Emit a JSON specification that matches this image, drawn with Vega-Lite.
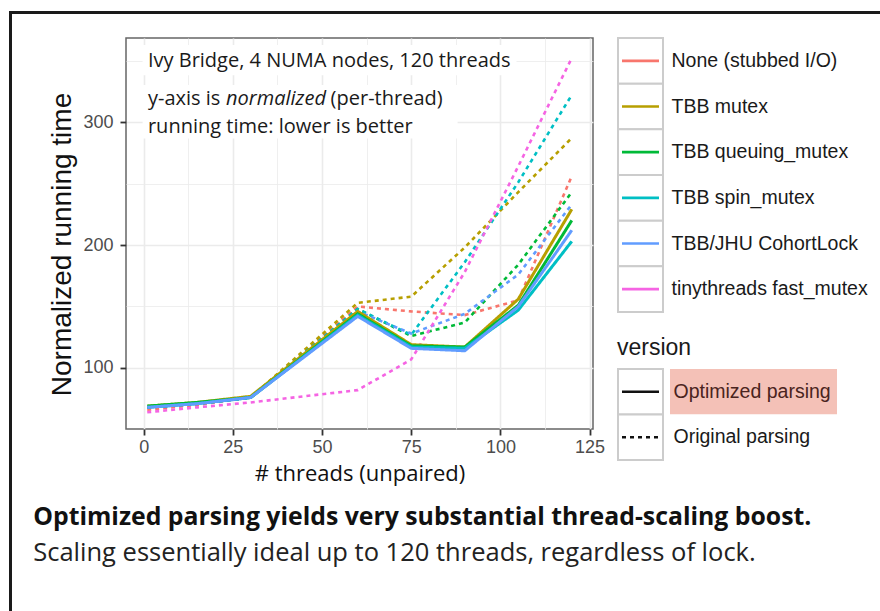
{
  "$schema": "https://vega.github.io/schema/vega-lite/v6.json",
  "padding": {"left": 9, "top": 11, "right": 0, "bottom": 0},
  "background": "white",
  "config": {"view": {"stroke": null}, "font": "Liberation Sans"},
  "spacing": 0,
  "vconcat": [
    {
      "width": 871, "height": 3,
      "view": {"fill": "#1a1a1a", "stroke": null},
      "data": {"values": []},
      "mark": "rule",
      "encoding": {}
    },
    {
      "spacing": 21,
      "hconcat": [
        {
          "width": 3, "height": 597,
          "view": {"fill": "#1a1a1a", "stroke": null},
          "data": {"values": []},
          "mark": "rule",
          "encoding": {}
        },
        {
          "spacing": 3,
          "title": {
            "text": "Optimized parsing yields very substantial thread-scaling boost.",
            "subtitle": "Scaling essentially ideal up to 120 threads, regardless of lock.",
            "orient": "bottom", "anchor": "start", "dx": -15, "offset": 20,
            "font": "Open Sans", "fontSize": 24.8, "fontWeight": "bold", "color": "#111111",
            "subtitleFont": "Open Sans", "subtitleFontSize": 25.5, "subtitleColor": "#222222", "subtitlePadding": 11
          },
          "vconcat": [
            {
              "width": 1, "height": 20,
              "view": {"stroke": null},
              "data": {"values": []},
              "mark": "rule",
              "encoding": {}
            },
            {
              "spacing": 10,
              "hconcat": [
                {
                  "width": 467, "height": 391,
                  "view": {"stroke": "#666666", "strokeWidth": 1.5},
                  "layer": [
                    {
                      "data": {"values": [
                        {"threads": 1, "time": 66, "lock": "None (stubbed I/O)", "version": "Original parsing"},
                        {"threads": 15, "time": 70, "lock": "None (stubbed I/O)", "version": "Original parsing"},
                        {"threads": 30, "time": 76, "lock": "None (stubbed I/O)", "version": "Original parsing"},
                        {"threads": 60, "time": 150, "lock": "None (stubbed I/O)", "version": "Original parsing"},
                        {"threads": 75, "time": 146, "lock": "None (stubbed I/O)", "version": "Original parsing"},
                        {"threads": 90, "time": 143, "lock": "None (stubbed I/O)", "version": "Original parsing"},
                        {"threads": 105, "time": 155, "lock": "None (stubbed I/O)", "version": "Original parsing"},
                        {"threads": 120, "time": 256, "lock": "None (stubbed I/O)", "version": "Original parsing"},
                        {"threads": 1, "time": 68, "lock": "TBB mutex", "version": "Original parsing"},
                        {"threads": 15, "time": 71, "lock": "TBB mutex", "version": "Original parsing"},
                        {"threads": 30, "time": 76, "lock": "TBB mutex", "version": "Original parsing"},
                        {"threads": 60, "time": 153, "lock": "TBB mutex", "version": "Original parsing"},
                        {"threads": 75, "time": 158, "lock": "TBB mutex", "version": "Original parsing"},
                        {"threads": 90, "time": 198, "lock": "TBB mutex", "version": "Original parsing"},
                        {"threads": 105, "time": 243, "lock": "TBB mutex", "version": "Original parsing"},
                        {"threads": 120, "time": 287, "lock": "TBB mutex", "version": "Original parsing"},
                        {"threads": 1, "time": 68, "lock": "TBB queuing_mutex", "version": "Original parsing"},
                        {"threads": 15, "time": 71, "lock": "TBB queuing_mutex", "version": "Original parsing"},
                        {"threads": 30, "time": 76, "lock": "TBB queuing_mutex", "version": "Original parsing"},
                        {"threads": 60, "time": 148, "lock": "TBB queuing_mutex", "version": "Original parsing"},
                        {"threads": 75, "time": 126, "lock": "TBB queuing_mutex", "version": "Original parsing"},
                        {"threads": 90, "time": 137, "lock": "TBB queuing_mutex", "version": "Original parsing"},
                        {"threads": 105, "time": 184, "lock": "TBB queuing_mutex", "version": "Original parsing"},
                        {"threads": 120, "time": 243, "lock": "TBB queuing_mutex", "version": "Original parsing"},
                        {"threads": 1, "time": 68, "lock": "TBB spin_mutex", "version": "Original parsing"},
                        {"threads": 15, "time": 71, "lock": "TBB spin_mutex", "version": "Original parsing"},
                        {"threads": 30, "time": 76, "lock": "TBB spin_mutex", "version": "Original parsing"},
                        {"threads": 60, "time": 148, "lock": "TBB spin_mutex", "version": "Original parsing"},
                        {"threads": 75, "time": 127, "lock": "TBB spin_mutex", "version": "Original parsing"},
                        {"threads": 90, "time": 186, "lock": "TBB spin_mutex", "version": "Original parsing"},
                        {"threads": 105, "time": 251, "lock": "TBB spin_mutex", "version": "Original parsing"},
                        {"threads": 120, "time": 322, "lock": "TBB spin_mutex", "version": "Original parsing"},
                        {"threads": 1, "time": 68, "lock": "TBB/JHU CohortLock", "version": "Original parsing"},
                        {"threads": 15, "time": 71, "lock": "TBB/JHU CohortLock", "version": "Original parsing"},
                        {"threads": 30, "time": 76, "lock": "TBB/JHU CohortLock", "version": "Original parsing"},
                        {"threads": 60, "time": 146, "lock": "TBB/JHU CohortLock", "version": "Original parsing"},
                        {"threads": 75, "time": 128, "lock": "TBB/JHU CohortLock", "version": "Original parsing"},
                        {"threads": 90, "time": 144, "lock": "TBB/JHU CohortLock", "version": "Original parsing"},
                        {"threads": 105, "time": 176, "lock": "TBB/JHU CohortLock", "version": "Original parsing"},
                        {"threads": 120, "time": 233, "lock": "TBB/JHU CohortLock", "version": "Original parsing"},
                        {"threads": 1, "time": 64, "lock": "tinythreads fast_mutex", "version": "Original parsing"},
                        {"threads": 15, "time": 68, "lock": "tinythreads fast_mutex", "version": "Original parsing"},
                        {"threads": 30, "time": 72, "lock": "tinythreads fast_mutex", "version": "Original parsing"},
                        {"threads": 60, "time": 82, "lock": "tinythreads fast_mutex", "version": "Original parsing"},
                        {"threads": 75, "time": 107, "lock": "tinythreads fast_mutex", "version": "Original parsing"},
                        {"threads": 90, "time": 178, "lock": "tinythreads fast_mutex", "version": "Original parsing"},
                        {"threads": 105, "time": 264, "lock": "tinythreads fast_mutex", "version": "Original parsing"},
                        {"threads": 120, "time": 352, "lock": "tinythreads fast_mutex", "version": "Original parsing"},
                        {"threads": 1, "time": 69, "lock": "TBB mutex", "version": "Optimized parsing"},
                        {"threads": 15, "time": 72, "lock": "TBB mutex", "version": "Optimized parsing"},
                        {"threads": 30, "time": 77, "lock": "TBB mutex", "version": "Optimized parsing"},
                        {"threads": 60, "time": 146, "lock": "TBB mutex", "version": "Optimized parsing"},
                        {"threads": 75, "time": 119, "lock": "TBB mutex", "version": "Optimized parsing"},
                        {"threads": 90, "time": 117, "lock": "TBB mutex", "version": "Optimized parsing"},
                        {"threads": 105, "time": 156, "lock": "TBB mutex", "version": "Optimized parsing"},
                        {"threads": 120, "time": 229, "lock": "TBB mutex", "version": "Optimized parsing"},
                        {"threads": 1, "time": 69, "lock": "TBB queuing_mutex", "version": "Optimized parsing"},
                        {"threads": 15, "time": 72, "lock": "TBB queuing_mutex", "version": "Optimized parsing"},
                        {"threads": 30, "time": 76, "lock": "TBB queuing_mutex", "version": "Optimized parsing"},
                        {"threads": 60, "time": 144, "lock": "TBB queuing_mutex", "version": "Optimized parsing"},
                        {"threads": 75, "time": 118, "lock": "TBB queuing_mutex", "version": "Optimized parsing"},
                        {"threads": 90, "time": 117, "lock": "TBB queuing_mutex", "version": "Optimized parsing"},
                        {"threads": 105, "time": 151, "lock": "TBB queuing_mutex", "version": "Optimized parsing"},
                        {"threads": 120, "time": 220, "lock": "TBB queuing_mutex", "version": "Optimized parsing"},
                        {"threads": 1, "time": 68, "lock": "TBB spin_mutex", "version": "Optimized parsing"},
                        {"threads": 15, "time": 71, "lock": "TBB spin_mutex", "version": "Optimized parsing"},
                        {"threads": 30, "time": 76, "lock": "TBB spin_mutex", "version": "Optimized parsing"},
                        {"threads": 60, "time": 143, "lock": "TBB spin_mutex", "version": "Optimized parsing"},
                        {"threads": 75, "time": 117, "lock": "TBB spin_mutex", "version": "Optimized parsing"},
                        {"threads": 90, "time": 116, "lock": "TBB spin_mutex", "version": "Optimized parsing"},
                        {"threads": 105, "time": 147, "lock": "TBB spin_mutex", "version": "Optimized parsing"},
                        {"threads": 120, "time": 203, "lock": "TBB spin_mutex", "version": "Optimized parsing"},
                        {"threads": 1, "time": 68, "lock": "TBB/JHU CohortLock", "version": "Optimized parsing"},
                        {"threads": 15, "time": 71, "lock": "TBB/JHU CohortLock", "version": "Optimized parsing"},
                        {"threads": 30, "time": 76, "lock": "TBB/JHU CohortLock", "version": "Optimized parsing"},
                        {"threads": 60, "time": 142, "lock": "TBB/JHU CohortLock", "version": "Optimized parsing"},
                        {"threads": 75, "time": 116, "lock": "TBB/JHU CohortLock", "version": "Optimized parsing"},
                        {"threads": 90, "time": 114, "lock": "TBB/JHU CohortLock", "version": "Optimized parsing"},
                        {"threads": 105, "time": 150, "lock": "TBB/JHU CohortLock", "version": "Optimized parsing"},
                        {"threads": 120, "time": 212, "lock": "TBB/JHU CohortLock", "version": "Optimized parsing"}
                      ]},
                      "mark": {"type": "line", "clip": true},
                      "encoding": {
                        "x": {
                          "field": "threads", "type": "quantitative",
                          "scale": {"domain": [-4.95, 125.95], "nice": false, "zero": false},
                          "axis": {
                            "title": "# threads (unpaired)",
                            "values": [0, 12.5, 25, 37.5, 50, 62.5, 75, 87.5, 100, 112.5, 125],
                            "labelExpr": "datum.value % 25 === 0 ? datum.label : ''",
                            "labelOverlap": false, "labelFlush": false,
                            "labelFont": "Liberation Sans", "labelFontSize": 18, "labelColor": "#4D4D4D", "labelPadding": 3,
                            "tickSize": 6, "tickWidth": 1.8, "tickColor": "#333333",
                            "tickOpacity": {"condition": {"test": "datum.value % 25 === 0", "value": 1}, "value": 0},
                            "domain": false,
                            "grid": true, "gridColor": "#EBEBEB",
                            "gridWidth": {"condition": {"test": "datum.value % 25 === 0", "value": 1.6}, "value": 0.8},
                            "titleFont": "Open Sans", "titleFontSize": 22, "titleFontWeight": "normal", "titleColor": "#111111", "titlePadding": 7
                          }
                        },
                        "y": {
                          "field": "time", "type": "quantitative",
                          "scale": {"domain": [50.4, 368.3], "nice": false, "zero": false},
                          "axis": {
                            "title": "Normalized running time",
                            "values": [100, 150, 200, 250, 300, 350],
                            "labelExpr": "datum.value % 100 === 0 ? datum.label : ''",
                            "labelOverlap": false, "labelFlush": false,
                            "labelFont": "Liberation Sans", "labelFontSize": 18, "labelColor": "#4D4D4D", "labelPadding": 7,
                            "tickSize": 6, "tickWidth": 1.8, "tickColor": "#333333",
                            "tickOpacity": {"condition": {"test": "datum.value % 100 === 0", "value": 1}, "value": 0},
                            "domain": false,
                            "grid": true, "gridColor": "#EBEBEB",
                            "gridWidth": {"condition": {"test": "datum.value % 100 === 0", "value": 1.6}, "value": 0.8},
                            "titleFont": "Liberation Sans", "titleFontSize": 28, "titleFontWeight": "normal", "titleColor": "#111111", "titlePadding": 6,
                            "titleY": 206
                          }
                        },
                        "color": {
                          "field": "lock", "type": "nominal",
                          "scale": {
                            "domain": ["None (stubbed I/O)", "TBB mutex", "TBB queuing_mutex", "TBB spin_mutex", "TBB/JHU CohortLock", "tinythreads fast_mutex"],
                            "range": ["#F8766D", "#B79F00", "#00BA38", "#00BFC4", "#619CFF", "#F564E3"]
                          },
                          "legend": null
                        },
                        "strokeDash": {
                          "field": "version", "type": "nominal",
                          "scale": {"domain": ["Optimized parsing", "Original parsing"], "range": [[1, 0], [4, 4]]},
                          "legend": null
                        },
                        "strokeWidth": {
                          "field": "version", "type": "nominal",
                          "scale": {"domain": ["Optimized parsing", "Original parsing"], "range": [3, 2.6]},
                          "legend": null
                        }
                      }
                    },
                    {
                      "data": {"values": [{"box": "line1"}]},
                      "mark": {"type": "rect", "fill": "white"},
                      "encoding": {
                        "x": {"datum": -0.3, "type": "quantitative"},
                        "x2": {"datum": 104.5},
                        "y": {"datum": 362.6, "type": "quantitative"},
                        "y2": {"datum": 338}
                      }
                    },
                    {
                      "data": {"values": [{"box": "line2"}]},
                      "mark": {"type": "rect", "fill": "white"},
                      "encoding": {
                        "x": {"datum": -0.3, "type": "quantitative"},
                        "x2": {"datum": 88},
                        "y": {"datum": 330, "type": "quantitative"},
                        "y2": {"datum": 286.5}
                      }
                    },
                    {
                      "data": {"values": [{"note": "Ivy Bridge, 4 NUMA nodes, 120 threads"}]},
                      "mark": {"type": "text", "align": "left", "baseline": "middle", "font": "Open Sans", "fontSize": 20, "color": "#1a1a1a"},
                      "encoding": {
                        "x": {"datum": 1.2, "type": "quantitative"},
                        "y": {"datum": 349.6, "type": "quantitative"},
                        "text": {"field": "note"}
                      }
                    },
                    {
                      "data": {"values": [{"note": "y-axis is"}]},
                      "mark": {"type": "text", "align": "left", "baseline": "middle", "font": "Open Sans", "fontSize": 20, "color": "#1a1a1a"},
                      "encoding": {
                        "x": {"datum": 1.2, "type": "quantitative"},
                        "y": {"datum": 318.7, "type": "quantitative"},
                        "text": {"field": "note"}
                      }
                    },
                    {
                      "data": {"values": [{"note": "normalized"}]},
                      "mark": {"type": "text", "align": "left", "baseline": "middle", "font": "Open Sans", "fontSize": 20, "fontStyle": "italic", "color": "#1a1a1a"},
                      "encoding": {
                        "x": {"datum": 23.1, "type": "quantitative"},
                        "y": {"datum": 318.7, "type": "quantitative"},
                        "text": {"field": "note"}
                      }
                    },
                    {
                      "data": {"values": [{"note": "(per-thread)"}]},
                      "mark": {"type": "text", "align": "left", "baseline": "middle", "font": "Open Sans", "fontSize": 20, "color": "#1a1a1a"},
                      "encoding": {
                        "x": {"datum": 52.4, "type": "quantitative"},
                        "y": {"datum": 318.7, "type": "quantitative"},
                        "text": {"field": "note"}
                      }
                    },
                    {
                      "data": {"values": [{"note": "running time: lower is better"}]},
                      "mark": {"type": "text", "align": "left", "baseline": "middle", "font": "Open Sans", "fontSize": 20, "color": "#1a1a1a"},
                      "encoding": {
                        "x": {"datum": 1.2, "type": "quantitative"},
                        "y": {"datum": 296, "type": "quantitative"},
                        "text": {"field": "note"}
                      }
                    }
                  ]
                },
                {
                  "spacing": 24,
                  "vconcat": [
                    {
                      "width": 45, "height": 274,
                      "data": {"values": [
                        {"lock": "None (stubbed I/O)"}, {"lock": "TBB mutex"}, {"lock": "TBB queuing_mutex"},
                        {"lock": "TBB spin_mutex"}, {"lock": "TBB/JHU CohortLock"}, {"lock": "tinythreads fast_mutex"}
                      ]},
                      "layer": [
                        {
                          "mark": {"type": "rect", "fill": "white", "stroke": "#CCCCCC", "strokeWidth": 2},
                          "encoding": {
                            "y": {
                              "field": "lock", "type": "nominal", "sort": null,
                              "scale": {"domain": ["None (stubbed I/O)", "TBB mutex", "TBB queuing_mutex", "TBB spin_mutex", "TBB/JHU CohortLock", "tinythreads fast_mutex"], "paddingInner": 0, "paddingOuter": 0},
                              "axis": {"orient": "right", "title": null, "ticks": false, "tickSize": 0, "domain": false, "labelPadding": 8, "labelFont": "Liberation Sans", "labelFontSize": 19.5, "labelColor": "#1a1a1a", "labelLimit": 400}
                            }
                          }
                        },
                        {
                          "mark": {"type": "point", "shape": "stroke", "size": 1369, "strokeWidth": 2.6, "filled": false, "opacity": 1},
                          "encoding": {
                            "y": {"field": "lock", "type": "nominal", "sort": null},
                            "color": {
                              "field": "lock", "type": "nominal",
                              "scale": {
                                "domain": ["None (stubbed I/O)", "TBB mutex", "TBB queuing_mutex", "TBB spin_mutex", "TBB/JHU CohortLock", "tinythreads fast_mutex"],
                                "range": ["#F8766D", "#B79F00", "#00BA38", "#00BFC4", "#619CFF", "#F564E3"]
                              },
                              "legend": null
                            }
                          }
                        }
                      ]
                    },
                    {
                      "title": {"text": "version", "anchor": "start", "orient": "top", "font": "Liberation Sans", "fontSize": 23, "fontWeight": "normal", "color": "#1a1a1a", "offset": 8},
                      "spacing": 6,
                      "hconcat": [
                        {
                          "width": 45, "height": 91,
                          "data": {"values": [{"version": "Optimized parsing"}, {"version": "Original parsing"}]},
                          "layer": [
                            {
                              "mark": {"type": "rect", "fill": "white", "stroke": "#CCCCCC", "strokeWidth": 2},
                              "encoding": {
                                "y": {"field": "version", "type": "nominal", "sort": null,
                                      "scale": {"domain": ["Optimized parsing", "Original parsing"], "paddingInner": 0, "paddingOuter": 0},
                                      "axis": null}
                              }
                            },
                            {
                              "mark": {"type": "point", "shape": "stroke", "size": 1369, "strokeWidth": 2.4, "filled": false, "opacity": 1, "color": "#111111"},
                              "encoding": {
                                "y": {"field": "version", "type": "nominal", "sort": null},
                                "strokeDash": {
                                  "field": "version", "type": "nominal",
                                  "scale": {"domain": ["Optimized parsing", "Original parsing"], "range": [[1, 0], [4, 3]]},
                                  "legend": null
                                }
                              }
                            }
                          ]
                        },
                        {
                          "width": 167, "height": 91,
                          "data": {"values": [{"version": "Optimized parsing"}, {"version": "Original parsing"}]},
                          "mark": {"type": "rect", "stroke": null},
                          "encoding": {
                            "y": {"field": "version", "type": "nominal", "sort": null,
                                  "scale": {"domain": ["Optimized parsing", "Original parsing"], "paddingInner": 0, "paddingOuter": 0},
                                  "axis": {"orient": "left", "title": null, "ticks": false, "tickSize": 0, "domain": false, "labelAlign": "left", "labelPadding": -3, "zindex": 1,
                                           "labelFont": "Liberation Sans", "labelFontSize": 19.5, "labelLimit": 400,
                                           "labelColor": {"condition": {"test": "datum.value === 'Optimized parsing'", "value": "#4a2420"}, "value": "#1a1a1a"}}},
                            "color": {"condition": {"test": "datum.version === 'Optimized parsing'", "value": "#F4C1B7"}, "value": "white"}
                          }
                        }
                      ]
                    }
                  ]
                }
              ]
            }
          ]
        }
      ]
    }
  ]
}
